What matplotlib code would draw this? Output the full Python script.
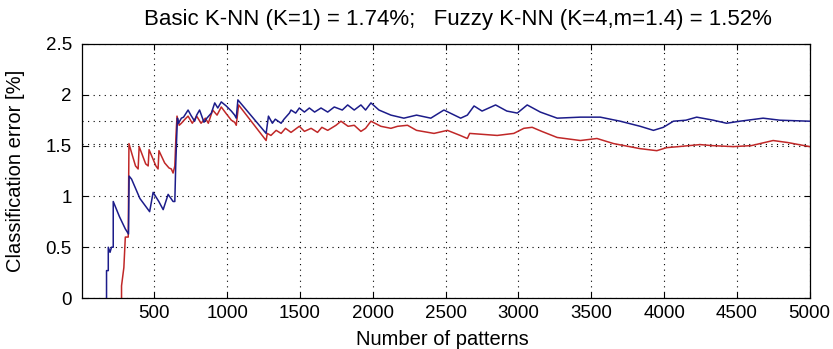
import numpy as np
import matplotlib
matplotlib.use("Agg")
import matplotlib.pyplot as plt

# ── Data ──────────────────────────────────────────────────────
BASIC_X = [171, 171, 183, 183, 195, 205, 217, 217, 260, 300, 322, 326, 343, 400, 467,
           491, 530, 560, 594, 628, 640, 646, 652, 658, 665, 685, 700, 731, 750, 776,
           790, 810, 840, 860, 891, 914, 935, 959, 993, 1028, 1051, 1062, 1073, 1267,
           1283, 1310, 1330, 1370, 1390, 1427, 1438, 1470, 1495, 1530, 1564, 1600, 1644,
           1690, 1735, 1790, 1827, 1872, 1918, 1950, 1987, 2042, 2124, 2213, 2300, 2398,
           2488, 2603, 2649, 2695, 2750, 2843, 2920, 2992, 3060, 3150, 3266, 3425, 3562,
           3699, 3836, 3927, 3995, 4064, 4150, 4224, 4338, 4429, 4521, 4680, 4795, 5000]
BASIC_Y = [0.0, 0.27, 0.27, 0.50, 0.45, 0.50, 0.50, 0.95, 0.80, 0.68, 0.63, 1.20, 1.17, 0.98, 0.85,
           1.04, 0.95, 0.87, 1.02, 0.95, 0.95, 1.30, 1.55, 1.77, 1.72, 1.77, 1.78, 1.85, 1.80, 1.74,
           1.80, 1.85, 1.73, 1.77, 1.82, 1.92, 1.87, 1.93, 1.89, 1.84, 1.80, 1.77, 1.95, 1.62,
           1.79, 1.72, 1.76, 1.72, 1.76, 1.82, 1.85, 1.82, 1.87, 1.83, 1.87, 1.83, 1.87,
           1.83, 1.88, 1.85, 1.90, 1.85, 1.90, 1.85, 1.92, 1.85, 1.80, 1.77, 1.80, 1.77,
           1.85, 1.77, 1.80, 1.89, 1.84, 1.90, 1.84, 1.82, 1.90, 1.83, 1.77, 1.78, 1.78,
           1.74, 1.69, 1.65, 1.68, 1.74, 1.75, 1.78, 1.75, 1.72, 1.74, 1.77, 1.75, 1.74]

FUZZY_X = [274, 274, 290, 300, 320, 325, 345, 370, 388, 395, 440, 457, 463, 510, 525,
           531, 570, 600, 616, 628, 640, 648, 655, 670, 685, 710, 731, 760, 790,
           820, 850, 870, 900, 930, 959, 990, 1028, 1051, 1062, 1078, 1267, 1275, 1300,
           1336, 1370, 1400, 1438, 1495, 1530, 1576, 1620, 1650, 1690, 1747, 1781, 1830,
           1872, 1918, 1950, 1987, 2055, 2124, 2170, 2238, 2300, 2420, 2512, 2600, 2649,
           2665, 2760, 2854, 2968, 3037, 3094, 3160, 3266, 3425, 3539, 3653, 3836, 3950,
           4018, 4100, 4247, 4330, 4475, 4600, 4749, 4850, 5000]
FUZZY_Y = [0.0, 0.12, 0.30, 0.60, 0.60, 1.52, 1.42, 1.30, 1.27, 1.49, 1.32, 1.30, 1.46, 1.30, 1.27,
           1.45, 1.33, 1.28, 1.27, 1.23, 1.30, 1.60, 1.79, 1.70, 1.72, 1.76, 1.79, 1.72, 1.79,
           1.72, 1.77, 1.72, 1.85, 1.80, 1.88, 1.82, 1.75, 1.73, 1.70, 1.90, 1.55, 1.62, 1.60,
           1.65, 1.62, 1.67, 1.63, 1.69, 1.64, 1.67, 1.63, 1.68, 1.65, 1.70, 1.74, 1.69,
           1.70, 1.64, 1.67, 1.74, 1.69, 1.67, 1.69, 1.70, 1.65, 1.62, 1.65, 1.60, 1.57,
           1.62, 1.61, 1.60, 1.62, 1.67, 1.68, 1.64, 1.58, 1.55, 1.57, 1.52, 1.47, 1.45,
           1.48, 1.49, 1.51, 1.50, 1.49, 1.50, 1.55, 1.53, 1.49]

BASIC_FINAL = 1.74
FUZZY_FINAL = 1.52
X_TICKS = [500, 1000, 1500, 2000, 2500, 3000, 3500, 4000, 4500, 5000]
Y_TICKS = [0, 0.5, 1, 1.5, 2, 2.5]
Y_TICKLABELS = ["0", "0.5", "1", "1.5", "2", "2.5"]

TITLE = "Basic K-NN (K=1) = 1.74%;   Fuzzy K-NN (K=4,m=1.4) = 1.52%"

plt.rcParams["font.family"] = "Liberation Sans"

fig = plt.figure(figsize=(8.33, 3.49), dpi=100)
ax = fig.add_axes([0.098, 0.146, 0.874, 0.728])

dotted = (0, (1, 4))
ax.axhline(BASIC_FINAL, color="black", linestyle=dotted, linewidth=0.8, zorder=1)
ax.axhline(FUZZY_FINAL, color="black", linestyle=dotted, linewidth=0.8, zorder=1)

ax.plot(BASIC_X, BASIC_Y, color="#1c1c8a", linewidth=1.1, zorder=3)
ax.plot(FUZZY_X, FUZZY_Y, color="#c02828", linewidth=1.1, zorder=2)

ax.set_xlim(0, 5000)
ax.set_ylim(0, 2.5)
ax.set_xticks(X_TICKS)
ax.set_yticks(Y_TICKS)
ax.set_yticklabels(Y_TICKLABELS)
ax.grid(True, color="black", linestyle=dotted, linewidth=0.8)
ax.tick_params(direction="in", length=4, top=True, right=True, labelsize=13.5,
               colors="black")
ax.tick_params(axis="x", pad=5)
ax.tick_params(axis="y", pad=7)
for spine in ax.spines.values():
    spine.set_linewidth(0.9)

ax.set_ylabel("Classification error [%]", fontsize=14.5)
ax.yaxis.set_label_coords(-0.078, 0.5)

# x label sits low, right at the bottom edge
fig.text(0.531, 0.012, "Number of patterns", ha="center", va="baseline", fontsize=14.5)
fig.text(0.55, 0.945, TITLE, ha="center", va="center", fontsize=16)

fig.savefig("out.png", dpi=100)
